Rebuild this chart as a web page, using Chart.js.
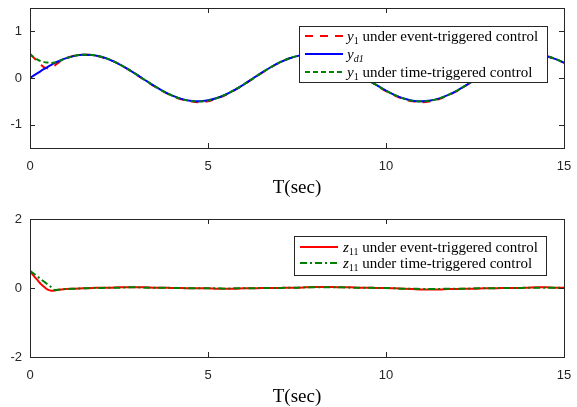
<!DOCTYPE html>
<html>
<head>
<meta charset="utf-8">
<script src="https://cdn.jsdelivr.net/npm/chart.js@4/dist/chart.umd.min.js"></script>
<style>
  body { margin: 0; background: #fff; }
  #wrap { position: relative; width: 577px; height: 407px; }
  #top, #bottom { position: absolute; left: 0; }
  #top { top: 0; }
  #bottom { top: 204px; }
</style>
</head>
<body>
<div id="wrap">
  <canvas id="top" width="577" height="204"></canvas>
  <canvas id="bottom" width="577" height="203"></canvas>
</div>
<script>
// time axis (sec)
var time = [0, 0.1, 0.2, 0.3, 0.4, 0.5, 0.6, 0.7, 0.8, 0.9, 1.0,
  1.25, 1.5, 1.75, 2, 2.25, 2.5, 2.75, 3, 3.25, 3.5, 3.75, 4, 4.25, 4.5, 4.75,
  5, 5.25, 5.5, 5.75, 6, 6.25, 6.5, 6.75, 7, 7.25, 7.5, 7.75, 8, 8.25, 8.5, 8.75,
  9, 9.25, 9.5, 9.75, 10, 10.25, 10.5, 10.75, 11, 11.25, 11.5, 11.75, 12, 12.25,
  12.5, 12.75, 13, 13.25, 13.5, 13.75, 14, 14.25, 14.5, 14.75, 15];

// reference y_d1
var yd1 = [0, 0.050, 0.099, 0.148, 0.195, 0.240, 0.282, 0.322, 0.359, 0.392, 0.421,
  0.474, 0.499, 0.492, 0.455, 0.389, 0.299, 0.191, 0.071, -0.054, -0.175, -0.286, -0.378, -0.447, -0.489, -0.500,
  -0.479, -0.429, -0.353, -0.254, -0.140, -0.017, 0.108, 0.225, 0.328, 0.412, 0.469, 0.497, 0.495, 0.462, 0.399, 0.312,
  0.206, 0.087, -0.038, -0.160, -0.272, -0.367, -0.440, -0.486, -0.500, -0.482, -0.436, -0.362, -0.268, -0.155,
  -0.033, 0.092, 0.210, 0.316, 0.402, 0.464, 0.495, 0.498, 0.468, 0.410, 0.325];

// y_1 under event-triggered control
var y1Event = [0.50, 0.44, 0.36, 0.29, 0.23, 0.21, 0.22, 0.27, 0.33, 0.38, 0.42,
  0.475, 0.50, 0.49, 0.45, 0.385, 0.30, 0.19, 0.065, -0.06, -0.18, -0.29, -0.385, -0.455, -0.50, -0.52,
  -0.50, -0.44, -0.36, -0.26, -0.145, -0.02, 0.105, 0.22, 0.325, 0.41, 0.47, 0.50, 0.50, 0.465, 0.40, 0.31,
  0.20, 0.08, -0.045, -0.165, -0.28, -0.375, -0.45, -0.50, -0.52, -0.50, -0.45, -0.37, -0.275, -0.16,
  -0.04, 0.085, 0.205, 0.31, 0.40, 0.465, 0.50, 0.50, 0.47, 0.41, 0.325];

// y_1 under time-triggered control
var y1Time = [0.52, 0.45, 0.40, 0.36, 0.34, 0.33, 0.32, 0.33, 0.35, 0.39, 0.42,
  0.475, 0.50, 0.493, 0.456, 0.39, 0.30, 0.192, 0.072, -0.053, -0.175, -0.286, -0.38, -0.45, -0.492, -0.505,
  -0.485, -0.432, -0.355, -0.255, -0.14, -0.017, 0.108, 0.225, 0.33, 0.413, 0.47, 0.498, 0.496, 0.463, 0.40, 0.313,
  0.207, 0.088, -0.037, -0.16, -0.273, -0.368, -0.442, -0.49, -0.505, -0.486, -0.438, -0.363, -0.268, -0.155,
  -0.033, 0.092, 0.21, 0.316, 0.403, 0.465, 0.496, 0.499, 0.469, 0.41, 0.326];

// z_11 under event-triggered control
var z11Event = [0.50, 0.36, 0.24, 0.12, 0.03, -0.05, -0.08, -0.07, -0.05, -0.04, -0.03,
  -0.02, -0.01, 0.0, 0.01, 0.01, 0.02, 0.02, 0.02, 0.02, 0.01, 0.01, 0.0, 0.0, -0.01, -0.01,
  -0.01, -0.02, -0.02, -0.02, -0.01, -0.01, 0.0, 0.0, 0.0, 0.01, 0.01, 0.02, 0.03, 0.03, 0.03, 0.02,
  0.02, 0.01, 0.01, 0.0, 0.0, -0.01, -0.02, -0.03, -0.04, -0.04, -0.04, -0.03, -0.03, -0.02,
  -0.02, -0.01, -0.01, 0.0, 0.0, 0.0, 0.01, 0.02, 0.02, 0.01, 0.01];

// z_11 under time-triggered control
var z11Time = [0.50, 0.42, 0.34, 0.26, 0.18, 0.10, 0.02, -0.06, -0.05, -0.04, -0.03,
  -0.02, -0.01, 0.0, 0.0, 0.01, 0.01, 0.02, 0.02, 0.01, 0.01, 0.01, 0.0, 0.0, -0.01, -0.01,
  -0.01, -0.01, -0.02, -0.01, -0.01, -0.01, 0.0, 0.0, 0.0, 0.01, 0.01, 0.02, 0.02, 0.02, 0.02, 0.02,
  0.01, 0.01, 0.01, 0.0, 0.0, -0.01, -0.02, -0.02, -0.03, -0.03, -0.03, -0.02, -0.02, -0.02,
  -0.01, -0.01, -0.01, 0.0, 0.0, 0.0, 0.01, 0.01, 0.01, 0.01, 0.01];

var xTicks = [0, 5, 10, 15];
var yTicksTop = [-1, 0, 1];
var yTicksBottom = [-2, 0, 2];

var AXIS = '#262626';

function pts(ys) {
  return ys.map(function (v, i) { return { x: time[i], y: v }; });
}

// box frame with inward ticks, like a matlab axes
var boxAxes = {
  id: 'boxAxes',
  afterDatasetsDraw: function (chart) {
    var ctx = chart.ctx, a = chart.chartArea;
    var sx = chart.scales.x, sy = chart.scales.y;
    ctx.save();
    ctx.strokeStyle = AXIS;
    ctx.lineWidth = 1;
    ctx.strokeRect(Math.round(a.left) + 0.5, Math.round(a.top) + 0.5,
      Math.round(a.right - a.left), Math.round(a.bottom - a.top));
    ctx.beginPath();
    sx.ticks.forEach(function (t) {
      var px = Math.round(sx.getPixelForValue(t.value)) + 0.5;
      ctx.moveTo(px, a.bottom); ctx.lineTo(px, a.bottom - 5);
      ctx.moveTo(px, a.top); ctx.lineTo(px, a.top + 5);
    });
    sy.ticks.forEach(function (t) {
      var py = Math.round(sy.getPixelForValue(t.value)) + 0.5;
      ctx.moveTo(a.left, py); ctx.lineTo(a.left + 5, py);
      ctx.moveTo(a.right, py); ctx.lineTo(a.right - 5, py);
    });
    ctx.stroke();
    ctx.restore();
  }
};

// legend box drawn inside the plot
var boxLegend = {
  id: 'boxLegend',
  afterDraw: function (chart, args, opts) {
    var ctx = chart.ctx;
    var b = opts.box;
    ctx.save();
    ctx.fillStyle = '#fff';
    ctx.fillRect(b[0], b[1], b[2], b[3]);
    ctx.strokeStyle = AXIS;
    ctx.lineWidth = 1;
    ctx.strokeRect(b[0] + 0.5, b[1] + 0.5, b[2], b[3]);
    opts.items.forEach(function (it, i) {
      var y = b[1] + opts.firstRow + i * opts.rowGap;
      ctx.strokeStyle = it.color;
      ctx.lineWidth = 2;
      ctx.setLineDash(it.dash);
      ctx.beginPath();
      ctx.moveTo(b[0] + opts.lineX0, y);
      ctx.lineTo(b[0] + opts.lineX1, y);
      ctx.stroke();
      ctx.setLineDash([]);
      var x = b[0] + opts.textX;
      ctx.fillStyle = '#000';
      ctx.textBaseline = 'alphabetic';
      it.parts.forEach(function (p) {
        var size = p.sub ? 10 : 15;
        ctx.font = (p.it ? 'italic ' : '') + size + 'px "Liberation Serif", "DejaVu Serif", serif';
        ctx.fillText(p.t, x, y + 5 + (p.sub ? 3 : 0));
        x += ctx.measureText(p.t).width;
      });
    });
    ctx.restore();
  }
};

function makeOptions(yMin, yMax, yTicks, padTop, xHeight, titlePad, legend) {
  return {
    responsive: false,
    devicePixelRatio: 1,
    animation: false,
    layout: { padding: { top: padTop, right: 13, left: 0, bottom: 0 } },
    plugins: { legend: { display: false }, tooltip: { enabled: false }, boxLegend: legend },
    elements: { point: { radius: 0 }, line: { borderWidth: 2, cubicInterpolationMode: 'monotone' } },
    scales: {
      x: {
        type: 'linear', min: 0, max: 15,
        afterBuildTicks: function (s) { s.ticks = xTicks.map(function (v) { return { value: v }; }); },
        afterFit: function (s) { s.height = xHeight; s.paddingLeft = 0; s.paddingRight = 0; },
        grid: { display: false, drawTicks: false },
        border: { display: false },
        ticks: { padding: 11, color: AXIS, maxRotation: 0, font: { family: '"Liberation Sans", Arial, sans-serif', size: 13 } },
        title: {
          display: true, text: 'T(sec)', color: '#000',
          padding: { top: 0, bottom: titlePad },
          font: { family: '"Liberation Serif", "DejaVu Serif", serif', size: 19, lineHeight: 1 }
        }
      },
      y: {
        type: 'linear', min: yMin, max: yMax,
        afterBuildTicks: function (s) { s.ticks = yTicks.map(function (v) { return { value: v }; }); },
        afterFit: function (s) { s.width = 30; s.paddingTop = 0; s.paddingBottom = 0; },
        grid: { display: false, drawTicks: false },
        border: { display: false },
        ticks: { padding: 8, color: AXIS, font: { family: '"Liberation Sans", Arial, sans-serif', size: 13 } }
      }
    }
  };
}

new Chart(document.getElementById('top'), {
  type: 'line',
  data: {
    datasets: [
      { data: pts(y1Event), borderColor: '#ff0000', borderDash: [8, 7], order: 3 },
      { data: pts(yd1), borderColor: '#0000ff', order: 2 },
      { data: pts(y1Time), borderColor: '#008000', borderDash: [5, 3], order: 1 }
    ]
  },
  options: makeOptions(-1.5, 1.5, yTicksTop, 8, 56, 6.5, {
    box: [299, 26, 248, 56], firstRow: 10, rowGap: 18, lineX0: 6, lineX1: 44, textX: 48,
    items: [
      { color: '#ff0000', dash: [8, 7], parts: [{ t: 'y', it: true }, { t: '1', sub: true }, { t: ' under event-triggered control' }] },
      { color: '#0000ff', dash: [], parts: [{ t: 'y', it: true }, { t: 'd1', sub: true, it: true }] },
      { color: '#008000', dash: [5, 3], parts: [{ t: 'y', it: true }, { t: '1', sub: true }, { t: ' under time-triggered control' }] }
    ]
  }),
  plugins: [boxAxes, boxLegend]
});

new Chart(document.getElementById('bottom'), {
  type: 'line',
  data: {
    datasets: [
      { data: pts(z11Event), borderColor: '#ff0000', order: 2 },
      { data: pts(z11Time), borderColor: '#008000', borderDash: [7, 3, 2, 3], order: 1 }
    ]
  },
  options: makeOptions(-2, 2, yTicksBottom, 15, 50, 0.5, {
    box: [294, 32, 252, 39], firstRow: 11, rowGap: 16, lineX0: 6, lineX1: 44, textX: 49,
    items: [
      { color: '#ff0000', dash: [], parts: [{ t: 'z', it: true }, { t: '11', sub: true }, { t: ' under event-triggered control' }] },
      { color: '#008000', dash: [7, 3, 2, 3], parts: [{ t: 'z', it: true }, { t: '11', sub: true }, { t: ' under time-triggered control' }] }
    ]
  }),
  plugins: [boxAxes, boxLegend]
});
</script>
</body>
</html>
